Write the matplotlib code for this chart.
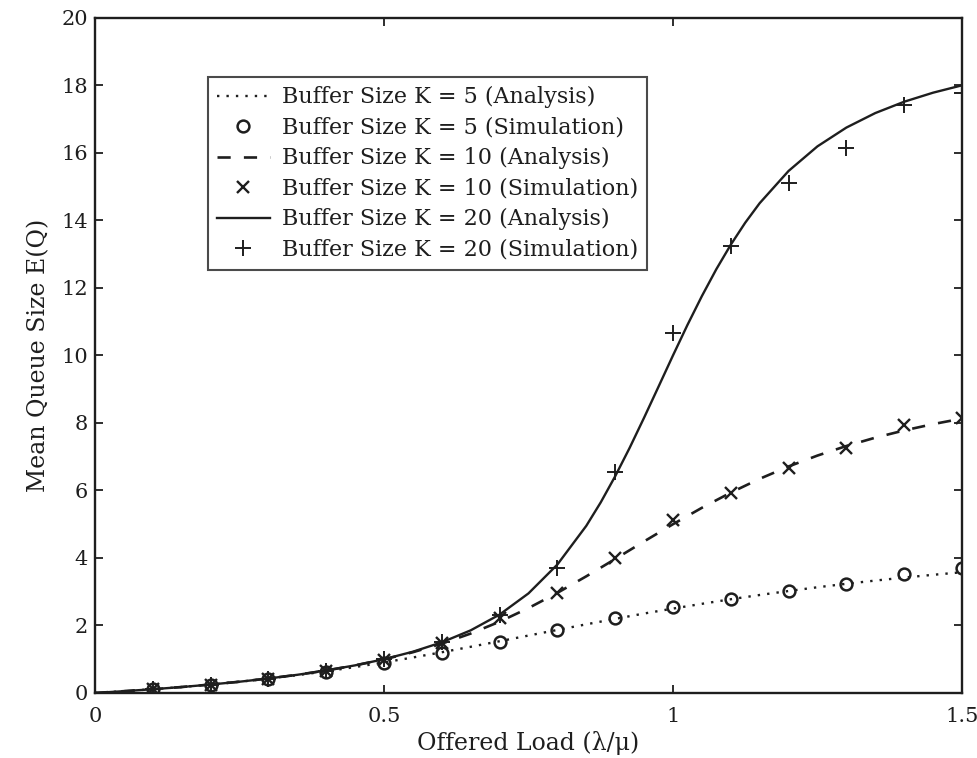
import matplotlib
matplotlib.use("Agg")
import matplotlib.pyplot as plt

# ---- data ----
load_sim = [0.1, 0.2, 0.3, 0.4, 0.5, 0.6, 0.7, 0.8, 0.9, 1.0, 1.1, 1.2, 1.3, 1.4, 1.5]
sim_k5 = [0.11, 0.24, 0.40, 0.62, 0.90, 1.19, 1.52, 1.87, 2.22, 2.54, 2.77, 3.02, 3.23, 3.53, 3.70]
sim_k10 = [0.11, 0.25, 0.42, 0.64, 0.98, 1.47, 2.22, 2.96, 4.00, 5.12, 5.92, 6.67, 7.26, 7.94, 8.15]
sim_k20 = [0.11, 0.25, 0.42, 0.64, 1.00, 1.50, 2.30, 3.70, 6.55, 10.67, 13.24, 15.10, 16.15, 17.42, 17.78]

load_an = [0.0, 0.05, 0.1, 0.15, 0.2, 0.25, 0.3, 0.35, 0.4, 0.45, 0.5, 0.55, 0.6, 0.65,
           0.7, 0.75, 0.8, 0.85, 0.9, 0.95, 1.0, 1.05, 1.1, 1.15, 1.2, 1.25, 1.3, 1.35,
           1.4, 1.45, 1.5]
an_k5 = [0.0, 0.053, 0.111, 0.176, 0.250, 0.332, 0.424, 0.527, 0.642, 0.768, 0.905, 1.051,
         1.206, 1.368, 1.533, 1.701, 1.868, 2.034, 2.195, 2.354, 2.500, 2.641, 2.777,
         2.903, 3.021, 3.132, 3.235, 3.330, 3.419, 3.501, 3.577]
an_k10 = [0.0, 0.053, 0.111, 0.176, 0.250, 0.333, 0.429, 0.538, 0.666, 0.817, 0.995, 1.207,
          1.460, 1.760, 2.111, 2.515, 2.966, 3.456, 3.969, 4.490, 5.000, 5.486, 5.936,
          6.345, 6.711, 7.034, 7.317, 7.564, 7.779, 7.966, 8.129]

load_an20 = [0.0, 0.05, 0.1, 0.15, 0.2, 0.25, 0.3, 0.35, 0.4, 0.45, 0.5, 0.55, 0.6, 0.65,
             0.7, 0.75, 0.8, 0.85, 0.875, 0.9, 0.925, 0.95, 0.975, 1.0, 1.025, 1.05,
             1.075, 1.1, 1.125, 1.15, 1.2, 1.25, 1.3, 1.35, 1.4, 1.45, 1.5]
an_k20 = [0.0, 0.053, 0.111, 0.176, 0.250, 0.333, 0.429, 0.538, 0.667, 0.818, 1.000, 1.222,
          1.500, 1.855, 2.322, 2.950, 3.805, 4.951, 5.646, 6.420, 7.261, 8.155, 9.075,
          10.000, 10.902, 11.758, 12.555, 13.281, 13.933, 14.512, 15.467, 16.196,
          16.752, 17.182, 17.518, 17.786, 18.004]

labels = ["Buffer Size K = 5 (Analysis)", "Buffer Size K = 5 (Simulation)",
          "Buffer Size K = 10 (Analysis)", "Buffer Size K = 10 (Simulation)",
          "Buffer Size K = 20 (Analysis)", "Buffer Size K = 20 (Simulation)"]

x_ticks = [0, 0.5, 1, 1.5]
x_ticklabels = ["0", "0.5", "1", "1.5"]
y_ticks = [0, 2, 4, 6, 8, 10, 12, 14, 16, 18, 20]

plt.rcParams['font.family'] = ['DejaVu Serif']
ink = "#1e1e1e"

fig = plt.figure(figsize=(9.78, 7.58), dpi=100)
ax = fig.add_axes([0.0971, 0.0858, 0.8865, 0.8905])

ax.plot(load_an, an_k5, linestyle=(0, (1, 3)), color=ink, lw=1.7, label=labels[0])
ax.plot(load_sim, sim_k5, linestyle="none", marker="o", mfc="none", mec=ink, mew=1.8,
        ms=8.5, label=labels[1])
ax.plot(load_an, an_k10, linestyle=(0, (5, 5)), color=ink, lw=1.9, label=labels[2])
ax.plot(load_sim, sim_k10, linestyle="none", marker="x", color=ink, mew=1.7,
        ms=8, label=labels[3])
ax.plot(load_an20, an_k20, linestyle="-", color=ink, lw=1.7, label=labels[4])
ax.plot(load_sim, sim_k20, linestyle="none", marker="+", color=ink, mew=1.4,
        ms=11, label=labels[5])

ax.set_xlim(0, 1.5)
ax.set_ylim(0, 20)
ax.set_xticks(x_ticks)
ax.set_xticklabels(x_ticklabels)
ax.set_yticks(y_ticks)
ax.tick_params(axis="both", direction="in", top=True, right=True, length=6, width=1.3,
               labelsize=15, colors=ink)
ax.tick_params(axis="x", pad=10)
ax.tick_params(axis="y", pad=5)
for s in ax.spines.values():
    s.set_linewidth(1.7)
    s.set_color(ink)

ax.set_xlabel("Offered Load (λ/μ)", fontsize=17, color=ink, labelpad=4)
ax.set_ylabel("Mean Queue Size E(Q)", fontsize=17, color=ink, labelpad=8)

leg = ax.legend(loc="upper left", bbox_to_anchor=(0.130, 0.912), fontsize=16,
                frameon=True, fancybox=False, edgecolor=ink, handlelength=2.4,
                handletextpad=0.55, labelspacing=0.38, borderpad=0.4,
                borderaxespad=0)
leg.get_frame().set_linewidth(1.5)
for t in leg.get_texts():
    t.set_color(ink)

fig.savefig("out.png", dpi=100)
